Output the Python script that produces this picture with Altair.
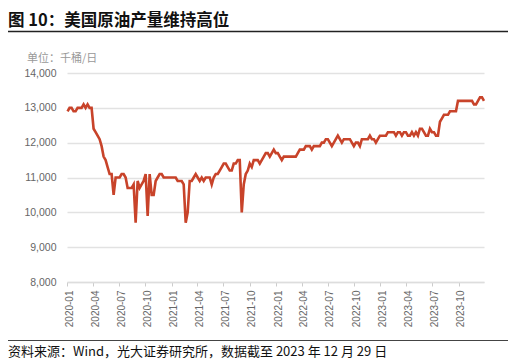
import altair as alt
import pandas as pd

# Weekly US crude oil production (thousand barrels/day), weeks ending on Fridays
prod_2020 = [12900, 13000, 13000, 12900, 12900, 13000, 13000, 13000, 13100, 13000, 13100, 13000, 13000,
             12400, 12300, 12200, 12100, 11900, 11600, 11500, 11300, 11100, 11100,
             10500, 11000, 11000, 11000, 11100, 11100, 11000, 10700, 10700, 10700, 10800, 9700,
             10900, 10700, 10800, 10900, 11100, 9900, 11100, 10500, 10500, 10900, 11000, 11100, 11100,
             11000, 11000, 11000, 11000]
prod_2021 = [11000, 11000, 11000, 10900, 10900, 10900, 10800, 9700, 10000, 10900, 10900, 11000,
             11100, 11000, 10900, 11000, 10900, 11000, 11000, 11000, 10800, 11000, 11100, 11100, 11200,
             11300, 11400, 11400, 11300, 11200, 11200, 11400, 11400, 11500, 11500, 10000, 10800, 11100,
             11200, 11400, 11300, 11500, 11500,
             11500, 11400, 11500, 11600, 11700, 11700, 11600, 11700, 11800, 11700]
prod_2022 = [11700, 11600, 11500, 11600, 11600, 11600, 11600, 11600, 11600, 11600, 11700, 11800, 11800,
             11800, 11900, 11900, 11900, 11800, 11900, 11900, 11900, 11900, 12000, 12000, 12100, 12100,
             12000, 11900, 12000, 12100, 12200,
             12100, 12000, 12100, 12100, 12100, 12100, 12000, 11900, 12000, 12000, 11900, 12100, 12100,
             12100, 12100, 12200, 12100, 12100, 12000, 12100, 12200]
prod_2023 = [12200, 12200, 12200, 12300, 12300, 12300, 12300, 12200, 12300, 12300, 12200, 12300, 12300,
             12200, 12200, 12300, 12200, 12300, 12200, 12400, 12400, 12300, 12200, 12200, 12400, 12300,
             12300, 12200, 12200,
             12600, 12700, 12800, 12800, 12800, 12900, 12900, 12900, 12900, 13200, 13200, 13200, 13200,
             13200, 13200, 13200, 13200, 13100, 13100, 13200, 13300, 13300, 13200]

tick_labels = ["2020-01", "2020-04", "2020-07", "2020-10", "2021-01", "2021-04", "2021-07", "2021-10",
               "2022-01", "2022-04", "2022-07", "2022-10", "2023-01", "2023-04", "2023-07", "2023-10"]
y_ticks = [8000, 9000, 10000, 11000, 12000, 13000, 14000]

title_text = "图 10：美国原油产量维持高位"
unit_text = "单位：千桶/日"
source_text = "资料来源：Wind，光大证券研究所，数据截至 2023 年 12 月 29 日"

values = prod_2020 + prod_2021 + prod_2022 + prod_2023
dates = pd.date_range("2020-01-03", periods=len(values), freq="7D")
df = pd.DataFrame({"date": dates.strftime("%Y-%m-%d"), "value": values})

tick_values = [alt.DateTime(year=int(t[:4]), month=int(t[5:]), date=1, utc=True) for t in tick_labels]

x_enc = alt.X(
    "date:T",
    scale=alt.Scale(type="utc",
                    domain=[alt.DateTime(year=2020, month=1, date=1, utc=True),
                            alt.DateTime(year=2023, month=12, date=29, utc=True)]),
    axis=alt.Axis(values=tick_values, labelExpr="utcFormat(datum.value, '%Y-%m')",
                  labelAngle=270, labelAlign="right", labelBaseline="middle",
                  labelFont="Liberation Sans", labelFontSize=10, labelColor="#666666",
                  labelPadding=4, labelOffset=2, tickSize=4, tickColor="#cccccc", tickWidth=1,
                  domainColor="#dddddd", domainWidth=1.5, grid=False, title=None,
                  labelOverlap=False, labelBound=False, labelFlush=False),
)
y_enc = alt.Y(
    "value:Q",
    scale=alt.Scale(domain=[8000, 14000], nice=False),
    axis=alt.Axis(values=y_ticks, format=",.0f", labelFont="Liberation Sans", labelFontSize=10.5,
                  labelColor="#666666", labelPadding=11, ticks=False, domain=False,
                  gridColor="#e2e2e2", gridWidth=1.5, title=None),
)

line = alt.Chart(df).mark_line(color="#C8432A", strokeWidth=2.6).encode(x=x_enc, y=y_enc)

one = pd.DataFrame({"a": [0]})

title = alt.Chart(pd.DataFrame({"t": [title_text]})).mark_text(
    font="Noto Sans CJK SC", fontWeight="bold", fontSize=16.5, color="#111111",
    align="left", baseline="middle").encode(text="t:N", x=alt.value(-59), y=alt.value(-52.5))

title_rule = alt.Chart(one).mark_rule(color="#222222", strokeWidth=1.6).encode(
    x=alt.value(-59), x2=alt.value(441), y=alt.value(-41.5))

unit = alt.Chart(pd.DataFrame({"t": [unit_text]})).mark_text(
    font="Noto Sans CJK SC", fontSize=11, color="#999999",
    align="left", baseline="middle").encode(text="t:N", x=alt.value(-40), y=alt.value(-14.5))

foot_rule = alt.Chart(one).mark_rule(color="#444444", strokeWidth=1.2).encode(
    x=alt.value(-59), x2=alt.value(441), y=alt.value(267.5))

source = alt.Chart(pd.DataFrame({"t": [source_text]})).mark_text(
    font="Noto Sans CJK SC", fontSize=13, color="#111111",
    align="left", baseline="middle").encode(text="t:N", x=alt.value(-59), y=alt.value(279))

chart = alt.layer(line, title, title_rule, unit, foot_rule, source).properties(
    width=417, height=209,
    autosize=alt.AutoSizeParams(type="none"),
    padding={"left": 59, "top": 65, "right": 24, "bottom": 81},
).configure_view(stroke=None)

chart.save("out.html", embed_options={"renderer": "svg", "actions": False})
